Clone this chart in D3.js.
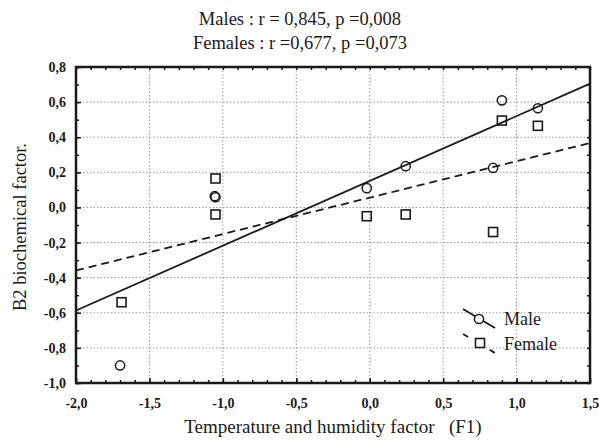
<!DOCTYPE html>
<html><head><meta charset="utf-8">
<script src="https://cdn.jsdelivr.net/npm/d3@7"></script>
<style>
body{margin:0;background:#fff;}
svg text{font-family:"Liberation Serif","Tinos","Times New Roman",serif !important;}
</style></head>
<body><svg id="c" width="599" height="441"></svg>
<script>
// ---- data ----
const titleLines = ["Males : r = 0,845, p =0,008", "Females : r =0,677, p =0,073"];
const xLabel = "Temperature and humidity factor   (F1)";
const yLabel = "B2 biochemical factor.";
const xTicks = [-2.0, -1.5, -1.0, -0.5, 0.0, 0.5, 1.0, 1.5];
const yTicks = [-1.0, -0.8, -0.6, -0.4, -0.2, 0.0, 0.2, 0.4, 0.6, 0.8];
const xF1 = [-1.70, -1.055, -1.05, -0.02, 0.245, 0.84, 0.90, 1.145];
const maleB2 = [-0.90, 0.064, 0.058, 0.11, 0.235, 0.225, 0.61, 0.565];
const femaleX = [-1.69, -1.05, -1.05, -0.02, 0.245, 0.84, 0.90, 1.145];
const femaleB2 = [-0.54, 0.165, -0.04, -0.05, -0.04, -0.14, 0.495, 0.465];
const maleFitX = [-2.0, 1.5];
const maleFitY = [-0.587, 0.705];
const femaleFitX = [-2.0, 1.5];
const femaleFitY = [-0.359, 0.367];
const legendLabels = ["Male", "Female"];

// ---- layout ----
const svg = d3.select("#c");
const L = 76, R = 590, T = 67, B = 383;
const x = d3.scaleLinear().domain([-2, 1.5]).range([L, R]);
const y = d3.scaleLinear().domain([-1, 0.8]).range([B, T]);
const fmt = v => d3.format(".1f")(v).replace(".", ",").replace("\u2212", "-");
const ink = "#1a1a1a";

// grid
svg.append("g").selectAll("line").data(xTicks.slice(1, -1)).join("line")
  .attr("x1", d => x(d)).attr("x2", d => x(d)).attr("y1", T).attr("y2", B)
  .attr("stroke", "#9a9a9a").attr("stroke-width", 1).attr("stroke-dasharray", "1.5,2");
svg.append("g").selectAll("line").data(yTicks.slice(1, -1)).join("line")
  .attr("y1", d => y(d)).attr("y2", d => y(d)).attr("x1", L).attr("x2", R)
  .attr("stroke", "#9a9a9a").attr("stroke-width", 1).attr("stroke-dasharray", "1.5,2");

// axes with inward ticks
const xMinor = d3.range(-20, 16).map(d => d / 10);
const yMinor = d3.range(-10, 9).map(d => d / 10);
function styleAxis(g) {
  g.select(".domain").remove();
  g.selectAll(".tick line").attr("stroke", ink).attr("stroke-width", 1.5);
}
function styleLabels(g) {
  g.attr("font-family", null).attr("font-size", null);
  g.selectAll("text").attr("fill", ink).style("font-size", "14px").style("font-weight", "bold");
}
svg.append("g").attr("transform", `translate(0,${B})`)
  .call(d3.axisBottom(x).tickValues(xTicks).tickSize(-5).tickPadding(15).tickFormat(fmt))
  .call(styleAxis).call(styleLabels);
svg.append("g").attr("transform", `translate(0,${B})`)
  .call(d3.axisBottom(x).tickValues(xMinor).tickSize(-3).tickFormat("")).call(styleAxis);
svg.append("g").attr("transform", `translate(0,${T})`)
  .call(d3.axisTop(x).tickValues(xMinor).tickSize(-3).tickFormat("")).call(styleAxis);
svg.append("g").attr("transform", `translate(${L},0)`)
  .call(d3.axisLeft(y).tickValues(yTicks).tickSize(-5).tickPadding(10).tickFormat(fmt))
  .call(styleAxis).call(styleLabels);
svg.append("g").attr("transform", `translate(${L},0)`)
  .call(d3.axisLeft(y).tickValues(yMinor).tickSize(-3).tickFormat("")).call(styleAxis);
svg.append("g").attr("transform", `translate(${R},0)`)
  .call(d3.axisRight(y).tickValues(yMinor).tickSize(-3).tickFormat("")).call(styleAxis);

// frame
svg.append("rect").attr("x", L).attr("y", T).attr("width", R - L).attr("height", B - T)
  .attr("fill", "none").attr("stroke", ink).attr("stroke-width", 2.5);

// fit lines
const line = d3.line().x(d => x(d[0])).y(d => y(d[1]));
svg.append("path").datum(maleFitX.map((v, i) => [v, maleFitY[i]])).attr("d", line)
  .attr("fill", "none").attr("stroke", ink).attr("stroke-width", 1.8);
svg.append("path").datum(femaleFitX.map((v, i) => [v, femaleFitY[i]])).attr("d", line)
  .attr("fill", "none").attr("stroke", ink).attr("stroke-width", 1.8).attr("stroke-dasharray", "8,5");

// points
svg.append("g").selectAll("rect").data(femaleX.map((v, i) => [v, femaleB2[i]])).join("rect")
  .attr("x", d => x(d[0]) - 4.5).attr("y", d => y(d[1]) - 4.5).attr("width", 9).attr("height", 9)
  .attr("fill", "none").attr("stroke", ink).attr("stroke-width", 1.6);
svg.append("g").selectAll("circle").data(xF1.map((v, i) => [v, maleB2[i]])).join("circle")
  .attr("cx", d => x(d[0])).attr("cy", d => y(d[1])).attr("r", 4.6)
  .attr("fill", "none").attr("stroke", ink).attr("stroke-width", 1.5);

// legend
const lg = svg.append("g");
lg.append("line").attr("x1", 463).attr("y1", 309).attr("x2", 495).attr("y2", 328)
  .attr("stroke", ink).attr("stroke-width", 1.8);
lg.append("circle").attr("cx", 479).attr("cy", 319).attr("r", 4.6)
  .attr("fill", "#fff").attr("stroke", ink).attr("stroke-width", 1.5);
lg.append("line").attr("x1", 463).attr("y1", 334).attr("x2", 495).attr("y2", 353)
  .attr("stroke", ink).attr("stroke-width", 1.8).attr("stroke-dasharray", "6,25");
lg.append("rect").attr("x", 475.5).attr("y", 338.5).attr("width", 9).attr("height", 9)
  .attr("fill", "#fff").attr("stroke", ink).attr("stroke-width", 1.6);
lg.selectAll("text").data(legendLabels).join("text")
  .attr("x", 504).attr("y", (d, i) => 325 + i * 25)
  .attr("fill", ink).style("font-size", "18px").text(d => d);

// titles
svg.selectAll("text.title").data(titleLines).join("text").attr("class", "title")
  .attr("x", 300).attr("y", (d, i) => 25 + i * 24).attr("text-anchor", "middle")
  .attr("fill", ink).style("font-size", "18.5px").text(d => d);
svg.append("text").attr("x", 333).attr("y", 433).attr("text-anchor", "middle")
  .attr("fill", ink).style("font-size", "19px").style("white-space", "pre").text(xLabel);
svg.append("text").attr("transform", "translate(26,227) rotate(-90)").attr("text-anchor", "middle")
  .attr("fill", ink).style("font-size", "18.5px").text(yLabel);
</script></body></html>
